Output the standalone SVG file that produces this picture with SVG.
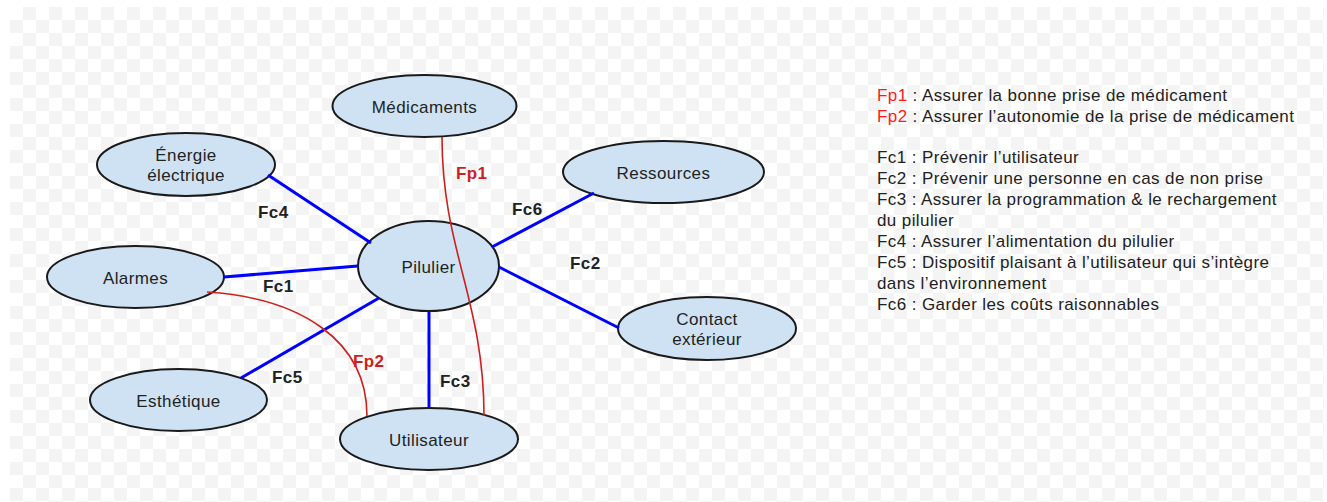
<svg xmlns="http://www.w3.org/2000/svg" width="1327" height="502" viewBox="0 0 1327 502">
<defs>
<pattern id="chk" x="10" y="7" width="26" height="26" patternUnits="userSpaceOnUse">
<rect width="26" height="26" fill="#ffffff"/>
<rect x="13" y="0" width="13" height="13" fill="#f4f4f4"/>
<rect x="0" y="13" width="13" height="13" fill="#f4f4f4"/>
</pattern>
</defs>
<style>
.node ellipse{fill:#cfe2f3;stroke:#1a1a1a;stroke-width:2}
.node text{font-family:"Liberation Sans",Arial,sans-serif;font-size:17px;letter-spacing:0.4px;fill:#222;text-anchor:middle}
.blue{stroke:#0000ff;stroke-width:3;fill:none}
.red{stroke:#cc2020;stroke-width:1.6;fill:none}
.lbl{font-family:"Liberation Sans",Arial,sans-serif;font-size:17px;letter-spacing:0.4px;font-weight:bold;fill:#222}
.lblr{font-family:"Liberation Sans",Arial,sans-serif;font-size:17px;letter-spacing:0.4px;font-weight:bold;fill:#cc1f1f}
.leg{font-family:"Liberation Sans",Arial,sans-serif;font-size:17px;letter-spacing:0.4px;fill:#222}
.legr{fill:#ff1a1a}
</style>
<rect width="1327" height="502" fill="#ffffff"/>
<rect x="10" y="7" width="1314" height="495" fill="url(#chk)"/>
<g id="medicaments" class="node"><ellipse cx="424.5" cy="106" rx="92" ry="31"/><text x="424.5" y="112.5">Médicaments</text></g>
<g id="energie" class="node"><ellipse cx="186" cy="164.5" rx="89" ry="31.5"/><text x="186" y="160.5">Énergie</text><text x="186" y="181">électrique</text></g>
<g id="alarmes" class="node"><ellipse cx="135.5" cy="277" rx="88.5" ry="31"/><text x="135.5" y="283.5">Alarmes</text></g>
<g id="pilulier" class="node"><ellipse cx="428.5" cy="266" rx="70.5" ry="45"/><text x="428.5" y="272.5">Pilulier</text></g>
<g id="esthetique" class="node"><ellipse cx="178.5" cy="400" rx="88.5" ry="31"/><text x="178.5" y="406.5">Esthétique</text></g>
<g id="utilisateur" class="node"><ellipse cx="429" cy="439" rx="89" ry="31"/><text x="429" y="445.5">Utilisateur</text></g>
<g id="ressources" class="node"><ellipse cx="663.5" cy="172" rx="100.5" ry="31"/><text x="663.5" y="178.5">Ressources</text></g>
<g id="contact" class="node"><ellipse cx="707" cy="328.5" rx="89" ry="31.5"/><text x="707" y="324.5">Contact</text><text x="707" y="345">extérieur</text></g>
<g id="connectors">
<line class="blue" x1="268" y1="175" x2="371" y2="243"/>
<line class="blue" x1="224" y1="277" x2="358" y2="266"/>
<line class="blue" x1="241" y1="378" x2="379" y2="298"/>
<line class="blue" x1="429" y1="311" x2="429" y2="408"/>
<line class="blue" x1="492" y1="247" x2="594" y2="193"/>
<line class="blue" x1="499" y1="267" x2="619" y2="328"/>
<path class="red" d="M442,137 C442,250 484,300 484,416"/>
<path class="red" d="M207,292 C300,298 367,340 367,416"/>
<text class="lbl" x="258" y="218">Fc4</text>
<text class="lbl" x="263" y="292">Fc1</text>
<text class="lbl" x="272" y="383">Fc5</text>
<text class="lblr" x="353" y="367">Fp2</text>
<text class="lbl" x="440" y="387">Fc3</text>
<text class="lblr" x="456" y="179">Fp1</text>
<text class="lbl" x="512" y="215">Fc6</text>
<text class="lbl" x="570" y="269">Fc2</text>
</g>
<g id="legend" class="leg">
<text x="877" y="101"><tspan class="legr">Fp1</tspan> : Assurer la bonne prise de médicament</text>
<text x="877" y="122"><tspan class="legr">Fp2</tspan> : Assurer l’autonomie de la prise de médicament</text>
<text x="877" y="163">Fc1 : Prévenir l’utilisateur</text>
<text x="877" y="184">Fc2 : Prévenir une personne en cas de non prise</text>
<text x="877" y="205">Fc3 : Assurer la programmation &amp; le rechargement</text>
<text x="877" y="226">du pilulier</text>
<text x="877" y="247">Fc4 : Assurer l’alimentation du pilulier</text>
<text x="877" y="268">Fc5 : Dispositif plaisant à l’utilisateur qui s’intègre</text>
<text x="877" y="289">dans l’environnement</text>
<text x="877" y="310">Fc6 : Garder les coûts raisonnables</text>
</g>
</svg>
